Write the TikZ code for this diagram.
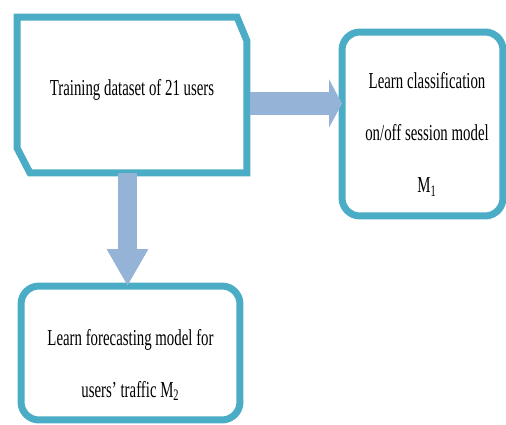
\documentclass[tikz,border=0pt]{standalone}
\usepackage{fontspec}
\setmainfont{Liberation Serif}[FakeStretch=0.65]
\usetikzlibrary{arrows.meta, calc}
\definecolor{boxteal}{HTML}{4BACC6}
\definecolor{flowblue}{HTML}{95B3D7}

\begin{document}
\begin{tikzpicture}[
    x=0.02cm, y=-0.02cm,
    box/.style={inner sep=0pt, outer sep=0pt},
    roundbox/.style={box, draw=boxteal, line width=0.14cm, rounded corners=0.36cm},
    boxline/.style={draw=boxteal, line width=0.14cm},
    boxtext/.style={align=center, inner sep=0pt, font=\fontsize{13}{29.6}\selectfont},
    flow/.style={draw=flowblue, line width=#1},
]
\useasboundingbox (0,0) rectangle (506,425);

% Boxes
\node[box, minimum width=4.6cm, minimum height=3.12cm] (train) at (132,95) {};
\node[roundbox, minimum width=3.22cm, minimum height=3.68cm] (classif) at (422.5,124) {};
\node[roundbox, minimum width=4.38cm, minimum height=2.68cm] (forecast) at (130.5,353) {};

% Snipped corners of the training box
\draw[boxline] (train.north west) -- ([xshift=-0.2cm]train.north east)
    -- ([yshift=-0.48cm]train.north east) -- (train.south east)
    -- ([xshift=0.26cm]train.south west) -- ([yshift=0.5cm]train.south west) -- cycle;

% Texts
\node[boxtext] (traintext) at ([yshift=0.1cm]train.center) {Training dataset of 21 users};
\node[boxtext] (classiftext) at ([xshift=0.09cm, yshift=-0.21cm]classif.center)
    {Learn classification\\on/off session model\\M\textsubscript{1}};
\node[boxtext] (forecasttext) at ([yshift=-0.24cm]forecast.center)
    {Learn forecasting model for\\users’ traffic M\textsubscript{2}};

% Block arrows
\coordinate (h0) at ([xshift=0.07cm, yshift=-0.17cm]train.east);
\draw[flow=0.46cm, -{Triangle[length=0.26cm, width=0.96cm]}] (h0) -- (h0 -| classif.west);
\coordinate (v0) at ([xshift=-0.09cm]train.south);
\draw[flow=0.38cm, -{Triangle[length=0.74cm, width=0.78cm]}] (v0) -- (v0 |- forecast.north);

\end{tikzpicture}
\end{document}
